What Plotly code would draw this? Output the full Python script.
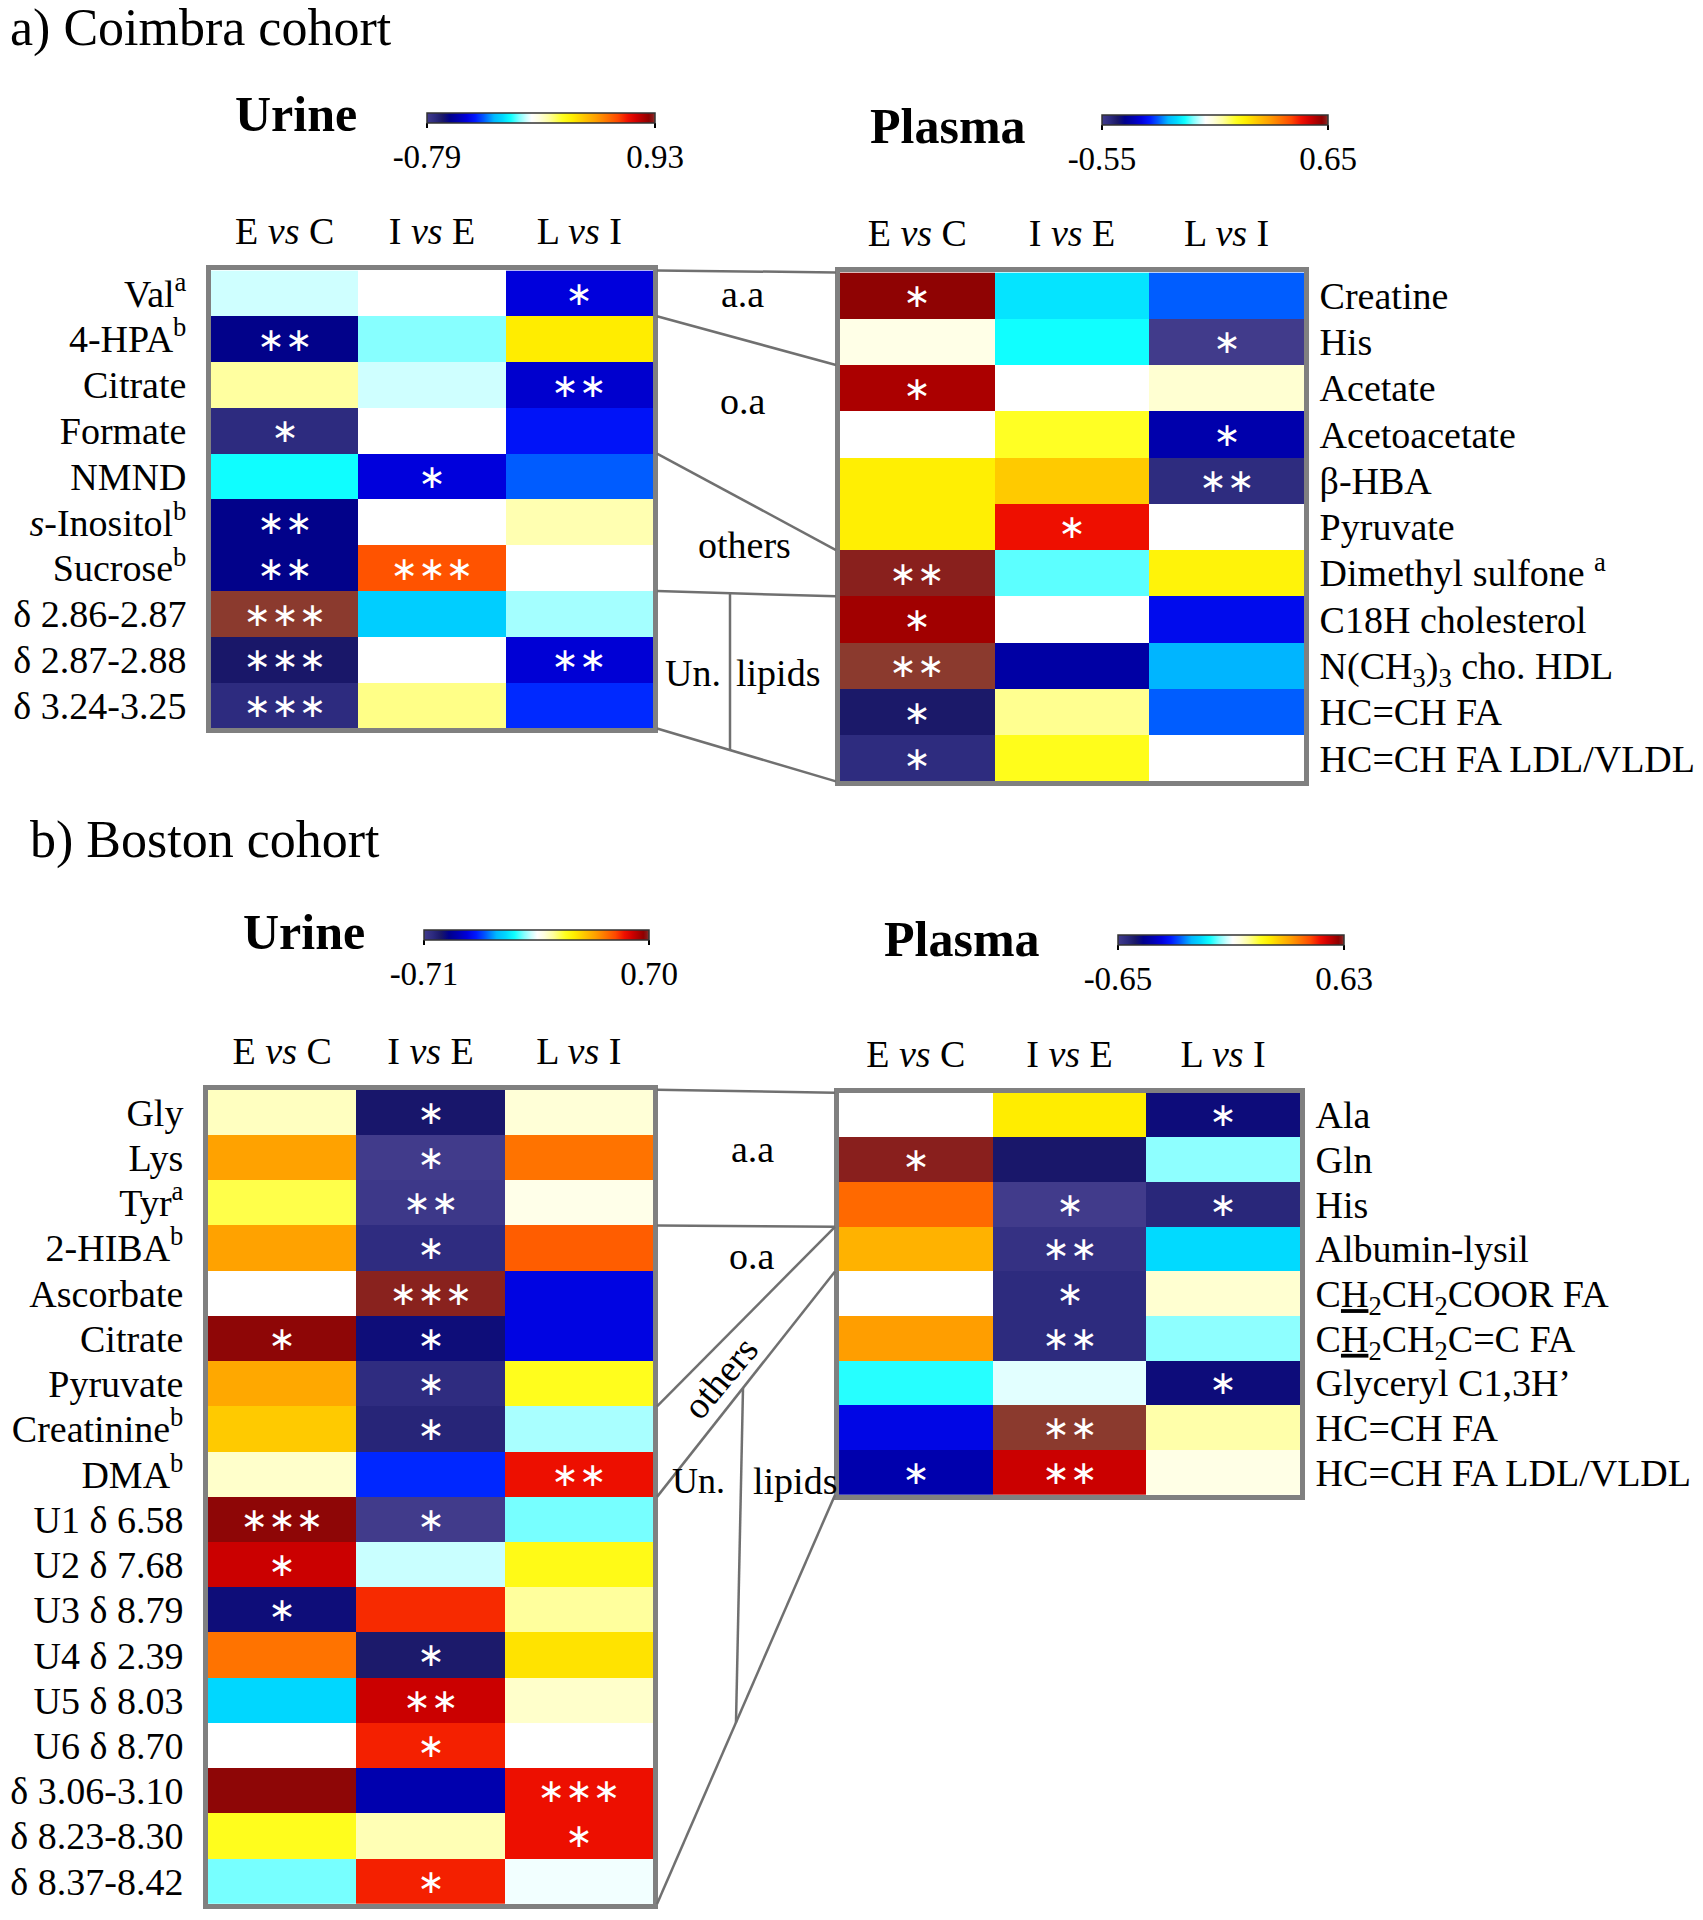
import plotly.graph_objects as go

W, H = 1703, 1920
FONT = "Liberation Serif, Times New Roman, serif"

col_labels = ["E <i>vs</i> C", "I <i>vs</i> E", "L <i>vs</i> I"]

# ---------------- Coimbra cohort : urine ----------------
cu_rows = ["Val<sup>a</sup>", "4-HPA<sup>b</sup>", "Citrate", "Formate", "NMND",
           "<i>s</i>-Inositol<sup>b</sup>", "Sucrose<sup>b</sup>", "δ 2.86-2.87",
           "δ 2.87-2.88", "δ 3.24-3.25"]
cu_evc = [-0.04, -0.62, 0.13, -0.73, -0.16, -0.62, -0.62, 0.93, -0.67, -0.73]
cu_ive = [0.00, -0.09, -0.04, 0.00, -0.49, 0.00, 0.63, -0.24, 0.00, 0.15]
cu_lvi = [-0.49, 0.31, -0.51, -0.44, -0.36, 0.11, 0.00, -0.07, -0.50, -0.41]
cu_sig_evc = ["", "**", "", "*", "", "**", "**", "***", "***", "***"]
cu_sig_ive = ["", "", "", "", "*", "", "***", "", "", ""]
cu_sig_lvi = ["*", "", "**", "", "", "", "", "", "**", ""]

# ---------------- Coimbra cohort : plasma ----------------
cp_rows = ["Creatine", "His", "Acetate", "Acetoacetate", "β-HBA", "Pyruvate",
           "Dimethyl sulfone <sup>a</sup>", "C18H cholesterol",
           "N(CH<sub>3</sub>)<sub>3</sub> cho. HDL", "HC=CH FA", "HC=CH FA LDL/VLDL"]
cp_evc = [0.62, 0.03, 0.59, 0.00, 0.21, 0.21, 0.64, 0.60, 0.65, -0.47, -0.51]
cp_ive = [-0.14, -0.11, 0.00, 0.16, 0.27, 0.51, -0.08, 0.00, -0.40, 0.10, 0.17]
cp_lvi = [-0.25, -0.55, 0.05, -0.39, -0.51, 0.00, 0.20, -0.32, -0.20, -0.25, 0.00]
cp_sig_evc = ["*", "", "*", "", "", "", "**", "*", "**", "*", "*"]
cp_sig_ive = ["", "", "", "", "", "*", "", "", "", "", ""]
cp_sig_lvi = ["", "*", "", "*", "**", "", "", "", "", "", ""]

# ---------------- Boston cohort : urine ----------------
bu_rows = ["Gly", "Lys", "Tyr<sup>a</sup>", "2-HIBA<sup>b</sup>", "Ascorbate", "Citrate",
           "Pyruvate", "Creatinine<sup>b</sup>", "DMA<sup>b</sup>", "U1 δ 6.58", "U2 δ 7.68",
           "U3 δ 8.79", "U4 δ 2.39", "U5 δ 8.03", "U6 δ 8.70", "δ 3.06-3.10",
           "δ 8.23-8.30", "δ 8.37-8.42"]
bu_evc = [0.07, 0.36, 0.15, 0.36, 0.00, 0.67, 0.35, 0.29, 0.06, 0.67, 0.60, -0.58,
          0.43, -0.20, 0.00, 0.67, 0.18, -0.09]
bu_ive = [-0.60, -0.71, -0.70, -0.66, 0.69, -0.58, -0.66, -0.64, -0.37, -0.71, -0.04,
          0.52, -0.61, 0.60, 0.53, -0.50, 0.08, 0.53]
bu_lvi = [0.05, 0.43, 0.03, 0.46, -0.43, -0.43, 0.18, -0.06, 0.55, -0.09, 0.19, 0.10,
          0.25, 0.06, 0.00, 0.55, 0.55, -0.01]
bu_sig_evc = ["", "", "", "", "", "*", "", "", "", "***", "*", "*", "", "", "", "", "", ""]
bu_sig_ive = ["*", "*", "**", "*", "***", "*", "*", "*", "", "*", "", "", "*", "**", "*",
              "", "", "*"]
bu_sig_lvi = ["", "", "", "", "", "", "", "", "**", "", "", "", "", "", "", "***", "*", ""]

# ---------------- Boston cohort : plasma ----------------
bp_rows = ["Ala", "Gln", "His", "Albumin-lysil",
           "C<u>H</u><sub>2</sub>CH<sub>2</sub>COOR FA",
           "C<u>H</u><sub>2</sub>CH<sub>2</sub>C=C FA",
           "Glyceryl C1,3H’", "HC=CH FA", "HC=CH FA LDL/VLDL"]
bp_evc = [0.00, 0.62, 0.40, 0.30, 0.00, 0.33, -0.12, -0.39, -0.46]
bp_ive = [0.21, -0.55, -0.65, -0.62, -0.60, -0.60, -0.02, 0.63, 0.54]
bp_lvi = [-0.53, -0.07, -0.59, -0.18, 0.05, -0.07, -0.53, 0.08, 0.03]
bp_sig_evc = ["", "*", "", "", "", "", "", "", "*"]
bp_sig_ive = ["", "", "*", "**", "*", "**", "", "**", "**"]
bp_sig_lvi = ["*", "", "*", "", "", "", "*", "", ""]

# colour map (relative position: -1 = most negative, +1 = most positive)
cs_t = [-1.0, -0.92, -0.85, -0.78, -0.70, -0.62, -0.54, -0.46, -0.36, -0.28, -0.20,
        -0.12, -0.05, 0.0, 0.06, 0.14, 0.25, 0.33, 0.42, 0.52, 0.62, 0.70, 0.78,
        0.85, 0.90, 0.95, 0.98, 1.0]
cs_c = ["#413B8B", "#2C2A7E", "#1A1868", "#00008C", "#0000B0", "#0000DC", "#0018FF",
        "#0058FF", "#00B8FF", "#00D8FF", "#10FFFF", "#80FFFF", "#D0FFFF", "#FFFFFF",
        "#FFFFE0", "#FFFFA0", "#FFFF20", "#FFEE00", "#FFC800", "#FFA000", "#FF7000",
        "#FF4800", "#F01000", "#D00000", "#B00000", "#900000", "#881818", "#8B3A2E"]


def colorscale(zmin, zmax):
    out = []
    for t, c in zip(cs_t, cs_c):
        v = t * (-zmin) if t < 0 else t * zmax
        out.append([(v - zmin) / (zmax - zmin), c])
    out[0][0] = 0.0
    out[-1][0] = 1.0
    return out


panels = [
    dict(rows=cu_rows, vals=[cu_evc, cu_ive, cu_lvi], sig=[cu_sig_evc, cu_sig_ive, cu_sig_lvi],
         zmin=-0.79, zmax=0.93, box=(211, 653, 267, 726), side="left",
         cbar=(427, 655, 109)),
    dict(rows=cp_rows, vals=[cp_evc, cp_ive, cp_lvi], sig=[cp_sig_evc, cp_sig_ive, cp_sig_lvi],
         zmin=-0.55, zmax=0.65, box=(840, 1304, 269, 779), side="right",
         cbar=(1102, 1328, 111)),
    dict(rows=bu_rows, vals=[bu_evc, bu_ive, bu_lvi], sig=[bu_sig_evc, bu_sig_ive, bu_sig_lvi],
         zmin=-0.71, zmax=0.70, box=(208, 653, 1088, 1904), side="left",
         cbar=(424, 649, 928)),
    dict(rows=bp_rows, vals=[bp_evc, bp_ive, bp_lvi], sig=[bp_sig_evc, bp_sig_ive, bp_sig_lvi],
         zmin=-0.65, zmax=0.63, box=(839, 1300, 1091, 1494), side="right",
         cbar=(1118, 1344, 933)),
]

fig = go.Figure()
layout_axes = {}
for i, p in enumerate(panels):
    n = len(p["rows"])
    z = [[p["vals"][c][r] for c in range(3)] for r in range(n)]
    txt = [[p["sig"][c][r].replace("*", "∗") for c in range(3)] for r in range(n)]
    x0, x1, y0, y1 = p["box"]
    cx0, cx1, cy = p["cbar"]
    sfx = "" if i == 0 else str(i + 1)
    fig.add_trace(go.Heatmap(
        z=z, x=[0, 1, 2], y=list(range(n)), text=txt, texttemplate="%{text}",
        textfont=dict(family="DejaVu Sans", size=33, color="white"),
        colorscale=colorscale(p["zmin"], p["zmax"]), zmin=p["zmin"], zmax=p["zmax"],
        xgap=0, ygap=0, hoverinfo="skip", xaxis="x" + sfx, yaxis="y" + sfx,
        colorbar=dict(orientation="h", x=cx0 / W, xanchor="left", y=1 - cy / H,
                      yanchor="top", len=cx1 - cx0, lenmode="pixels", thickness=10,
                      thicknessmode="pixels", xpad=0, ypad=0, outlinewidth=1.5,
                      outlinecolor="#333333",
                      tickvals=[p["zmin"] + 1e-6, p["zmax"] - 1e-6],
                      ticktext=[f"{p['zmin']:.2f}", f"{p['zmax']:.2f}"],
                      ticks="outside", ticklen=5, tickwidth=2, tickcolor="black",
                      ticklabeloverflow="allow",
                      tickfont=dict(family=FONT, size=33, color="black")),
    ))
    layout_axes["xaxis" + sfx] = dict(
        domain=[x0 / W, x1 / W], anchor="y" + sfx, range=[-0.5, 2.5], side="top",
        tickvals=[0, 1, 2], ticktext=col_labels, ticks="", showgrid=False, zeroline=False,
        showline=True, mirror=True, linewidth=5, linecolor="#808080",
        ticklabelstandoff=6, tickfont=dict(family=FONT, size=38, color="black"))
    layout_axes["yaxis" + sfx] = dict(
        domain=[1 - y1 / H, 1 - y0 / H], anchor="x" + sfx, range=[n - 0.5, -0.5],
        side=p["side"], tickvals=list(range(n)), ticktext=p["rows"], ticks="",
        showgrid=False, zeroline=False, showline=True, mirror=True, linewidth=5,
        linecolor="#808080", ticklabelstandoff=12 if p["side"] == "left" else 3,
        tickfont=dict(family=FONT, size=38, color="black"))

fig.update_layout(**layout_axes)

# ----- bracket lines between urine and plasma blocks -----
shapes = []
LINE = dict(color="#707070", width=2.5)


def seg_pts(ub, pb, k, m):
    ux0, ux1, uy0, uy1 = ub[0], ub[1], ub[2], ub[3]
    px0, px1, py0, py1 = pb[0], pb[1], pb[2], pb[3]
    ya = uy0 + k * (uy1 - uy0) / ub[4]
    yb = py0 + m * (py1 - py0) / pb[4]
    return (ux1 + 4, ya), (px0 - 4, yb)


def y_on(seg, x):
    (xa, ya), (xb, yb) = seg
    return ya + (yb - ya) * (x - xa) / (xb - xa)


cohorts = [
    dict(u=(211, 653, 267, 726, 10), p=(840, 1304, 269, 779, 11),
         links=[(0, 0), (1, 2), (4, 6), (7, 7), (10, 11)], div=(3, 4, 730, 730)),
    dict(u=(208, 653, 1088, 1904, 18), p=(839, 1300, 1091, 1494, 9),
         links=[(0, 0), (3, 3), (7, 3), (9, 4), (18, 9)], div=(3, 4, 743, 736)),
]
for c in cohorts:
    segs = [seg_pts(c["u"], c["p"], k, m) for k, m in c["links"]]
    for (xa, ya), (xb, yb) in segs:
        shapes.append(dict(type="line", xref="paper", yref="paper", x0=xa / W, y0=1 - ya / H,
                           x1=xb / W, y1=1 - yb / H, line=LINE))
    ia, ib, xt, xb_ = c["div"]
    yt = y_on(segs[ia], xt)
    yb2 = y_on(segs[ib], xb_)
    shapes.append(dict(type="line", xref="paper", yref="paper", x0=xt / W, y0=1 - yt / H,
                       x1=xb_ / W, y1=1 - yb2 / H, line=LINE))
fig.update_layout(shapes=shapes)

# ----- texts -----
ann = []


def add_text(t, x, y, size, xanchor="center", bold=False, angle=0):
    ann.append(dict(text=f"<b>{t}</b>" if bold else t, x=x / W, y=1 - y / H, xref="paper",
                    yref="paper", showarrow=False, xanchor=xanchor, yanchor="middle",
                    textangle=angle, font=dict(family=FONT, size=size, color="black")))


add_text("a) Coimbra cohort", 8, 24, 52, xanchor="left")
add_text("b) Boston cohort", 28, 838, 52, xanchor="left")
add_text("Urine", 296, 110, 50, bold=True)
add_text("Plasma", 948, 122, 50, bold=True)
add_text("Urine", 304, 930, 50, bold=True)
add_text("Plasma", 962, 937, 50, bold=True)

add_text("a.a", 742, 291, 38)
add_text("o.a", 743, 398, 38)
add_text("others", 744, 542, 38)
add_text("Un.", 693, 670, 38)
add_text("lipids", 778, 670, 38)

add_text("a.a", 752, 1147, 38)
add_text("o.a", 752, 1255, 38)
add_text("others", 720, 1377, 38, angle=-50)
add_text("Un.", 698, 1480, 36)
add_text("lipids", 795, 1480, 38)

fig.update_layout(annotations=ann, width=W, height=H, margin=dict(l=0, r=0, t=0, b=0),
                  paper_bgcolor="white", plot_bgcolor="white", showlegend=False)

fig.write_html("out.html", config={"displayModeBar": False},
               post_script="document.body.style.margin='0px';")
